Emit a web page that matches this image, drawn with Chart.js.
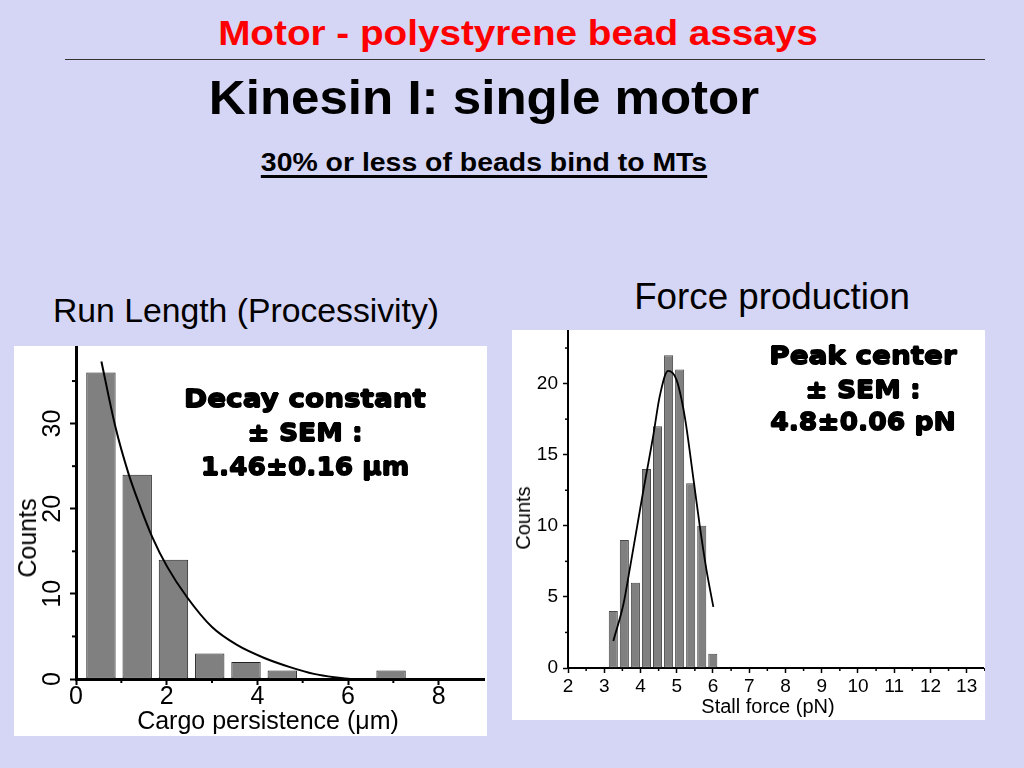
<!DOCTYPE html>
<html lang="en">
<head>
<meta charset="UTF-8">
<title>Kinesin I: single motor</title>
<script src="https://cdn.jsdelivr.net/npm/chart.js"></script>
<style>
  body {
    margin: 0;
    width: 1024px;
    height: 768px;
    background: #d5d5f5;
    font-family: "Liberation Sans", Arial, sans-serif;
    position: relative;
    overflow: hidden;
  }
  .txt {
    position: absolute;
    white-space: nowrap;
    text-align: center;
    color: #000;
  }
  .box {
    position: absolute;
    background: #fff;
  }
  .heavy {
    font-family: "DejaVu Sans", sans-serif;
    font-weight: bold;
    font-size: 25px;
    text-shadow: 0.7px 0 0 #000, -0.7px 0 0 #000, 0 0.7px 0 #000, 0 -0.7px 0 #000;
  }
</style>
</head>
<body>
  <div class="txt" data-w="600" style="left:518px; top:13px; font-size:35px; line-height:40px; font-weight:bold; color:#ff0000;">Motor - polystyrene bead assays</div>
  <div style="position:absolute; left:65px; top:58.5px; width:920px; height:1.5px; background:#333;"></div>
  <div class="txt" data-w="550" style="left:484px; top:69px; font-size:49px; line-height:56px; font-weight:bold;">Kinesin I: single motor</div>
  <div class="txt" data-w="446" style="left:484px; top:147px; font-size:26px; line-height:30px; font-weight:bold; text-decoration:underline; text-decoration-thickness:2.5px; text-underline-offset:4px;">30% or less of beads bind to MTs</div>
  <div class="txt" data-w="386" style="left:246px; top:290px; font-size:34px; line-height:40px;">Run Length (Processivity)</div>
  <div class="txt" data-w="276" style="left:772px; top:277px; font-size:37px; line-height:40px;">Force production</div>

  <div class="box" style="left:14px; top:346px; width:473px; height:390px;">
    <canvas id="runChart"></canvas>
  </div>
  <div class="box" style="left:512px; top:330px; width:473px; height:390px;">
    <canvas id="forceChart"></canvas>
  </div>

  <div class="txt heavy" data-w="242" style="left:305px; top:382px; line-height:34px;">Decay constant</div>
  <div class="txt heavy" data-w="115" style="left:305px; top:416px; line-height:34px;">± SEM :</div>
  <div class="txt heavy" data-w="208" style="left:305px; top:450px; line-height:34px;">1.46±0.16 μm</div>

  <div class="txt heavy" data-w="187" style="left:863px; top:339px; line-height:33px;">Peak center</div>
  <div class="txt heavy" data-w="115" style="left:863px; top:373px; line-height:33px;">± SEM :</div>
  <div class="txt heavy" data-w="185" style="left:863px; top:405px; line-height:33px;">4.8±0.06 pN</div>

  <div class="txt rot" style="left:27px; top:523px; font-size:25px; line-height:30px;">Counts</div>
  <div class="txt" style="left:268px; top:705px; font-size:25px; line-height:30px;">Cargo persistence (μm)</div>
  <div class="txt rot" style="left:523px; top:506px; font-size:20px; line-height:24px;">Counts</div>
  <div class="txt" style="left:768px; top:694px; font-size:20px; line-height:24px;">Stall force (pN)</div>

  <script>
    // Run length histogram (cargo persistence, um)
    const runCenters = [0.55, 1.35, 2.15, 2.95, 3.75, 4.55, 6.95];
    const runCounts = [36, 24, 14, 3, 2, 1, 1];
    // exponential decay fit
    const runFitX = [0.56, 0.87, 1.16, 1.42, 1.68, 2.01, 2.45, 3.0, 3.55, 4.14, 4.72, 5.25, 5.7, 6.05];
    const runFitY = [37.3, 29.6, 24.1, 20.2, 16.7, 13.2, 9.6, 6.1, 4.0, 2.5, 1.4, 0.6, 0.2, 0.0];
    const runXTicks = [0, 2, 4, 6, 8];
    const runXMinor = [1, 3, 5, 7];
    const runYTicks = [0, 10, 20, 30];
    const runYMinor = [5, 15, 25, 35];

    // Stall force histogram (pN)
    const forceCenters = [3.25, 3.555, 3.86, 4.165, 4.47, 4.775, 5.08, 5.385, 5.69, 5.995];
    const forceCounts = [4, 9, 6, 14, 17, 22, 21, 13, 10, 1];
    // gaussian fit
    const forceFitX = [3.25, 3.53, 3.70, 3.89, 4.08, 4.35, 4.53, 4.76, 4.99, 5.22, 5.45, 5.64, 5.82, 6.01];
    const forceFitY = [1.9, 4.5, 6.9, 9.7, 12.5, 16.3, 19.1, 20.9, 20.3, 17.7, 13.5, 9.9, 6.9, 4.3];
    const forceXTicks = [2, 3, 4, 5, 6, 7, 8, 9, 10, 11, 12, 13];
    const forceXMinor = [2.5, 3.5, 4.5, 5.5, 6.5, 7.5, 8.5, 9.5, 10.5, 11.5, 12.5, 13.5];
    const forceYTicks = [0, 5, 10, 15, 20];
    const forceYMinor = [2.5, 7.5, 12.5, 17.5, 22.5];

    // stretch slide texts to the widths they have in the slide
    document.querySelectorAll('.txt').forEach(el => {
      const w = parseFloat(el.dataset.w);
      const s = w ? w / el.offsetWidth : 1;
      const rot = el.classList.contains('rot') ? ' rotate(-90deg)' : '';
      el.style.transform = 'translateX(-50%) scaleX(' + s.toFixed(3) + ')' + rot;
    });

    // minor ticks + rotated y labels (left chart)
    const axisExtras = {
      id: 'axisExtras',
      afterDraw(chart, args, opts) {
        const ctx = chart.ctx;
        const xs = chart.scales.x, ys = chart.scales.y;
        ctx.save();
        ctx.strokeStyle = '#000';
        ctx.lineWidth = opts.tickWidth;
        opts.xMinor.forEach(v => {
          const px = xs.getPixelForValue(v);
          ctx.beginPath();
          ctx.moveTo(px, ys.bottom);
          ctx.lineTo(px, ys.bottom + opts.minorLen);
          ctx.stroke();
        });
        opts.yMinor.forEach(v => {
          const py = ys.getPixelForValue(v);
          ctx.beginPath();
          ctx.moveTo(xs.left, py);
          ctx.lineTo(xs.left - opts.minorLen, py);
          ctx.stroke();
        });
        if (opts.rotatedLabelX) {
          ctx.fillStyle = '#000';
          ctx.font = opts.rotatedFont;
          ctx.textAlign = 'center';
          ctx.textBaseline = 'middle';
          ys.ticks.forEach(t => {
            const py = ys.getPixelForValue(t.value);
            ctx.save();
            ctx.translate(opts.rotatedLabelX, py);
            ctx.rotate(-Math.PI / 2);
            ctx.fillText(String(t.value), 0, 0);
            ctx.restore();
          });
        }
        ctx.restore();
      }
    };

    function makeChart(id, cfg) {
      const ctx = document.getElementById(id).getContext('2d');
      return new Chart(ctx, {
        type: 'bar',
        data: {
          datasets: [{
            type: 'line',
            data: cfg.fitX.map((x, i) => ({ x: x, y: cfg.fitY[i] })),
            borderColor: '#000',
            borderWidth: cfg.lineWidth,
            pointRadius: 0,
            fill: false,
            cubicInterpolationMode: 'monotone',
            order: 1
          }, {
            data: cfg.centers.map((x, i) => ({ x: x, y: cfg.counts[i] })),
            backgroundColor: '#808080',
            borderColor: cfg.barBorder,
            borderWidth: 1,
            borderSkipped: false,
            categoryPercentage: 1,
            barPercentage: cfg.barPct,
            order: 2
          }]
        },
        options: {
          responsive: true,
          maintainAspectRatio: false,
          animation: false,
          layout: { padding: cfg.padding },
          plugins: {
            legend: { display: false },
            tooltip: { enabled: false },
            axisExtras: {
              xMinor: cfg.xMinor,
              yMinor: cfg.yMinor,
              minorLen: cfg.minorLen,
              tickWidth: cfg.tickWidth,
              rotatedLabelX: cfg.rotatedLabelX,
              rotatedFont: cfg.rotatedFont
            }
          },
          scales: {
            x: {
              type: 'linear',
              offset: false,
              min: cfg.xMin,
              max: cfg.xMax,
              afterBuildTicks: s => { s.ticks = cfg.xTicks.map(v => ({ value: v })); },
              afterFit: s => { s.height = cfg.xHeight; s.paddingLeft = 0; s.paddingRight = 0; },
              border: { display: true, color: '#000', width: cfg.axisWidth },
              grid: { offset: false, drawOnChartArea: false, drawTicks: true, tickLength: cfg.majorLen, tickWidth: cfg.tickWidth, tickColor: '#000' },
              ticks: {
                autoSkip: false,
                maxRotation: 0,
                padding: cfg.xPad,
                color: '#000',
                font: { family: 'Liberation Sans', size: cfg.tickFont, lineHeight: 1 }
              }
            },
            y: {
              min: 0,
              max: cfg.yMax,
              afterBuildTicks: s => { s.ticks = cfg.yTicks.map(v => ({ value: v })); },
              afterFit: s => { s.width = cfg.yWidth; s.paddingTop = 0; s.paddingBottom = 0; },
              border: { display: true, color: '#000', width: cfg.axisWidth },
              grid: { drawOnChartArea: false, drawTicks: true, tickLength: cfg.majorLen, tickWidth: cfg.tickWidth, tickColor: '#000' },
              ticks: {
                display: cfg.yLabels,
                padding: cfg.yPad,
                color: '#000',
                font: { family: 'Liberation Sans', size: cfg.tickFont, lineHeight: 1 }
              }
            }
          }
        },
        plugins: [axisExtras]
      });
    }

    makeChart('runChart', {
      centers: runCenters, counts: runCounts, fitX: runFitX, fitY: runFitY,
      xTicks: runXTicks, xMinor: runXMinor, yTicks: runYTicks, yMinor: runYMinor,
      xMin: 0, xMax: 9, yMax: 39,
      barPct: 0.81, barBorder: '#222', lineWidth: 2,
      padding: { top: 1, right: 3, left: 0, bottom: 0 },
      xHeight: 57, yWidth: 62,
      axisWidth: 3, tickWidth: 2, majorLen: 6, minorLen: 4,
      tickFont: 25, xPad: 0, yPad: 4, yLabels: false,
      rotatedLabelX: 39, rotatedFont: '25px "Liberation Sans"'
    });

    makeChart('forceChart', {
      centers: forceCenters, counts: forceCounts, fitX: forceFitX, fitY: forceFitY,
      xTicks: forceXTicks, xMinor: forceXMinor, yTicks: forceYTicks, yMinor: forceYMinor,
      xMin: 2, xMax: 13.45, yMax: 23.7,
      barPct: 0.82, barBorder: '#4a4a4a', lineWidth: 1.8,
      padding: { top: 1, right: 2, left: 0, bottom: 0 },
      xHeight: 52, yWidth: 56,
      axisWidth: 2, tickWidth: 1.5, majorLen: 5, minorLen: 3,
      tickFont: 19, xPad: 4, yPad: 5, yLabels: true,
      rotatedLabelX: 0, rotatedFont: ''
    });
  </script>
</body>
</html>
